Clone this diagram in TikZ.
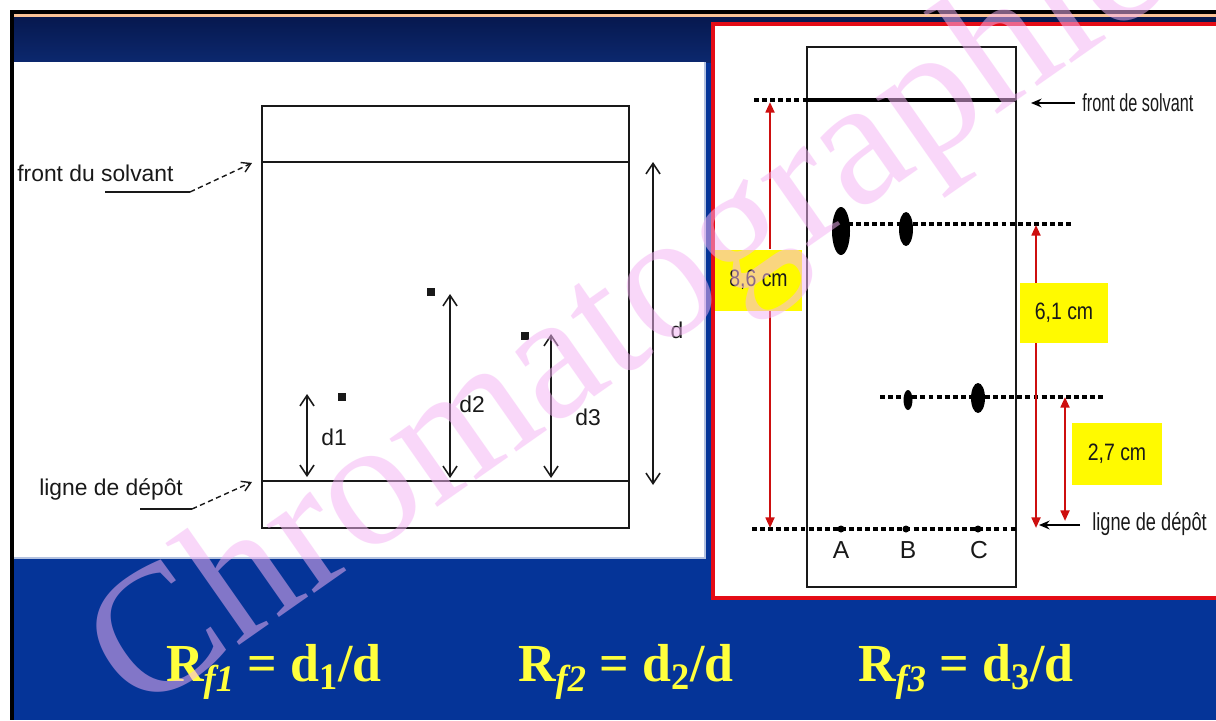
\documentclass[tikz,border=0pt]{standalone}
\usepackage{fontspec}
\setmainfont{Liberation Serif}
\newfontfamily\arialf{Liberation Sans}
\usetikzlibrary{arrows.meta}
\definecolor{navytop}{RGB}{6,24,78}
\definecolor{navybot}{RGB}{12,40,110}
\definecolor{slideblue}{RGB}{5,52,152}
\definecolor{framered}{RGB}{228,12,22}
\definecolor{arrred}{RGB}{205,15,15}
\definecolor{hiyellow}{RGB}{255,250,0}
\definecolor{formyellow}{RGB}{255,255,60}
\definecolor{wmark}{RGB}{245,180,245}
\definecolor{peach}{RGB}{250,195,150}
\definecolor{ink}{RGB}{25,25,25}
\begin{document}
\begin{tikzpicture}[x=0.02cm,y=-0.02cm,
  plate/.style={draw=ink,line width=1.1pt},
  lbl/.style={font=\arialf\fontsize{13}{15}\selectfont,text=ink,inner sep=0pt},
  rlbl/.style={font=\arialf\fontsize{14}{16}\selectfont,text=ink,inner sep=0pt},
  ylbl/.style={font=\arialf\fontsize{13.5}{15}\selectfont,text=ink,inner sep=0pt},
  dimarr/.style={draw=ink,line width=0.9pt,{Straight Barb[length=6pt,width=8pt]}-{Straight Barb[length=6pt,width=8pt]}},
  ptr/.style={draw=ink,line width=0.8pt,densely dashed,-{Straight Barb[length=5pt,width=6pt]}},
  dotl/.style={draw=black,line width=1.8pt,dash pattern=on 2.8pt off 1.8pt},
  redarr/.style={draw=arrred,line width=1.3pt,-{Triangle[length=6pt,width=5pt]}},
  blkarr/.style={draw=black,line width=1pt,-{Stealth[length=6pt,width=5pt]}},
  ybox/.style={fill=hiyellow,inner sep=0pt},
  spot/.style={fill=black},
  formula/.style={font=\fontsize{29}{32}\selectfont\bfseries,text=formyellow,anchor=base}
]
\useasboundingbox (0,0) rectangle (1216,720);
% background
\fill[white] (0,0) rectangle (1216,720);
\fill[slideblue] (14,16) rectangle (1216,720);
\shade[top color=navytop,bottom color=navybot] (14,16) rectangle (1216,62);
\fill[black] (10,10) rectangle (1216,14);
\fill[peach] (14,14) rectangle (1216,16.5);
\fill[black] (10,10) rectangle (14,720);
\fill[white] (14,62) rectangle (705,558);
\draw[white!70!slideblue,line width=0.6pt] (14,558) -- (705,558) -- (705,62);

% ---------- left diagram ----------
\draw[plate] (262,106) rectangle (629,528);
\draw[plate] (262,162) -- (629,162);
\draw[plate] (262,481) -- (629,481);

\node[lbl,anchor=west] (fds) at (17,173) {front du solvant};
\coordinate (fdsA) at (105,192);
\coordinate (fdsB) at (190,192);
\coordinate (fdsT) at (252,163);
\draw[ink,line width=0.9pt] (fdsA) -- (fdsB);
\draw[ptr] (fdsB) -- (fdsT);

\node[lbl,anchor=west] (ldd) at (39,489) {ligne de dépôt};
\coordinate (lddA) at (140,509);
\coordinate (lddB) at (192,509);
\coordinate (lddT) at (252,482);
\draw[ink,line width=0.9pt] (lddA) -- (lddB);
\draw[ptr] (lddB) -- (lddT);

% spots
\fill[ink] (337.5,392.5) rectangle ++(8,8);
\fill[ink] (426.5,287.5) rectangle ++(8,8);
\fill[ink] (520.5,331.5) rectangle ++(8,8);

% dimension arrows
\coordinate (d1t) at (307,394); \coordinate (d1b) at (307,477);
\coordinate (d2t) at (450,294); \coordinate (d2b) at (450,478);
\coordinate (d3t) at (551,334); \coordinate (d3b) at (551,478);
\coordinate (dt) at (653,162); \coordinate (db) at (653,485);
\draw[dimarr] (d1t) -- (d1b);
\draw[dimarr] (d2t) -- (d2b);
\draw[dimarr] (d3t) -- (d3b);
\draw[dimarr] (dt) -- (db);
\node[lbl] (ld1) at (334,437) {d1};
\node[lbl] (ld2) at (472,404) {d2};
\node[lbl] (ld3) at (588,417) {d3};
\node[lbl] (ld) at (677,330) {d};

% ---------- right panel ----------
\draw[framered,fill=white,line width=2.3pt] (713,24) rectangle (1222,598);
\draw[plate] (807,47) rectangle (1016,587);
\draw[black,line width=2.6pt] (807,100) -- (1016,100);
\draw[dotl] (754,100) -- (807,100);
\draw[dotl] (848,224) -- (1072,224);
\draw[dotl] (880,397) -- (1105,397);
\draw[dotl] (752,529) -- (1016,529);

\fill[spot] (841,231) ellipse [x radius=9,y radius=24];
\fill[spot] (906,229) ellipse [x radius=7,y radius=17];
\fill[spot] (908,400) ellipse [x radius=4.5,y radius=10];
\fill[spot] (978,398) ellipse [x radius=7,y radius=15];
\fill[spot] (841,529) circle [radius=3.5];
\fill[spot] (906,529) circle [radius=3.5];
\fill[spot] (978,529) circle [radius=3.5];

\node[rlbl] (la) at (841,550) {A};
\node[rlbl] (lb) at (908,550) {B};
\node[rlbl] (lc) at (979,550) {C};

% labels with black arrows
\node[rlbl,anchor=west] (fdsr) at (1082,103) {\scalebox{0.66}[1]{front de solvant}};
\coordinate (fdsrT) at (1031,103);
\draw[blkarr] (fdsr.west) ++(-7,0) -- (fdsrT);
\node[rlbl,anchor=west] (lddr) at (1092,524) {\scalebox{0.74}[1]{ligne de dépôt}};
\coordinate (lddrT) at (1039,525);
\draw[blkarr] (lddr.west) ++(-12,1) -- (lddrT);

% yellow boxes
\node[ybox,minimum width=87*0.02cm,minimum height=61*0.02cm] (b86) at (758.5,280) {};
\node[ylbl] at (b86.center) {\scalebox{0.82}[1]{8,6 cm}};
\node[ybox,minimum width=88*0.02cm,minimum height=60*0.02cm] (b61) at (1064,313) {};
\node[ylbl] at (b61.center) {\scalebox{0.82}[1]{6,1 cm}};
\node[ybox,minimum width=90*0.02cm,minimum height=62*0.02cm] (b27) at (1117,454) {};
\node[ylbl] at (b27.center) {\scalebox{0.82}[1]{2,7 cm}};

% red arrows
\coordinate (r86t) at (770,102); \coordinate (r86b) at (770,528);
\draw[redarr] (b86.north -| r86t) -- (r86t);
\draw[redarr] (b86.south -| r86b) -- (r86b);
\coordinate (r61t) at (1036,225); \coordinate (r61b) at (1036,528);
\draw[redarr] (b61.north -| r61t) -- (r61t);
\draw[redarr] (b61.south -| r61b) -- (r61b);
\coordinate (r27t) at (1065,397); \coordinate (r27b) at (1065,521);
\draw[redarr,{Triangle[length=6pt,width=5pt]}-{Triangle[length=6pt,width=5pt]}] (r27t) -- (r27b);

% ---------- formulas ----------
\node[formula] (f1) at (274,681) {\scalebox{1.02}[1.05]{R\textsubscript{\itshape f1} = d\textsubscript{1}/d}};
\node[formula] (f2) at (626,681) {\scalebox{1.02}[1.05]{R\textsubscript{\itshape f2} = d\textsubscript{2}/d}};
\node[formula] (f3) at (966,681) {\scalebox{1.02}[1.05]{R\textsubscript{\itshape f3} = d\textsubscript{3}/d}};

% ---------- watermark ----------
\node[text=wmark,text opacity=0.52,rotate=35,font=\fontsize{103}{110}\selectfont] (wm) at (632,318) {Chromatographie};
\end{tikzpicture}
\end{document}
